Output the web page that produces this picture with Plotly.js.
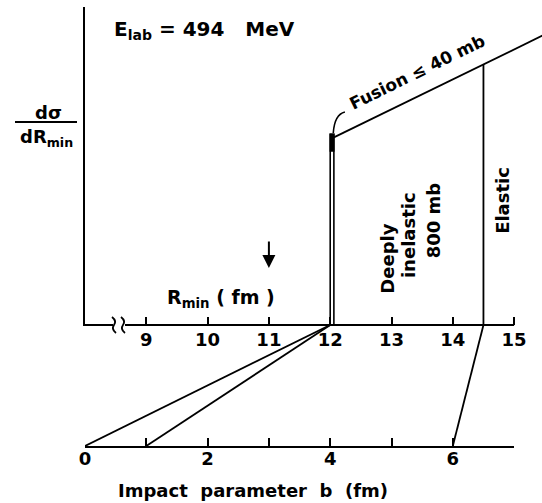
<!DOCTYPE html>
<html>
<head>
<meta charset="utf-8">
<script src="https://cdn.plot.ly/plotly-3.0.1.min.js"></script>
<style>
  html, body { margin: 0; padding: 0; background: #fff; }
  #chart { width: 542px; height: 503px; }
  #chart .xtick text, #chart .x2tick text { font-weight: bold !important; }
</style>
</head>
<body>
<div id="chart"></div>
<script>
// Distance of closest approach axis (fm) and its labels
const rTicks = [9, 10, 11, 12, 13, 14, 15];
const rTickText = ['9', '10', '11', '12', '13', '14', '15'];
const rAxisStart = 8;            // first value of the R_min scale (broken axis)
const rAxisEnd = 15;

// Impact parameter axis (fm) and its labels
const bTicks = [0, 1, 2, 3, 4, 5, 6, 7];
const bTickText = ['0', '', '2', '', '4', '', '6', ''];

// Narrow fusion spike near R_min = 12 fm
const spikeR = [12.0, 12.06];
const spikeTop = 6.0;
const spikeCap = [5.45, 6.02];

// Deeply inelastic envelope (rising line) and elastic cut
const envelopeR = [12.06, 15.6];
const envelopeY = [5.9, 9.23];
const elasticR = 14.5;
const elasticY = 8.2;

// Mapping b -> R_min (impact parameter to closest approach)
const mapB = [0, 1, 6];
const mapR = [12, 12, 14.5];

// Arrow marker on the R_min axis
const arrowR = 11;
const arrowTip = 1.79;
const arrowTail = 2.67;

const black = '#000';
const FONT = 'DejaVu Sans, sans-serif';
const BOLD = 'bold';

const traces = [];

// spike drawn as a thin double line
traces.push({
  x: [spikeR[0], spikeR[0], spikeR[1], spikeR[1]],
  y: [0, spikeTop, spikeTop, 0],
  xaxis: 'x', yaxis: 'y', mode: 'lines',
  line: { color: black, width: 1.6 }, hoverinfo: 'skip'
});
traces.push({
  x: [(spikeR[0] + spikeR[1]) / 2, (spikeR[0] + spikeR[1]) / 2],
  y: spikeCap,
  xaxis: 'x', yaxis: 'y', mode: 'lines',
  line: { color: black, width: 5 }, hoverinfo: 'skip'
});
// envelope
traces.push({
  x: envelopeR, y: envelopeY,
  xaxis: 'x', yaxis: 'y', mode: 'lines',
  line: { color: black, width: 1.8 }, hoverinfo: 'skip'
});
// elastic boundary
traces.push({
  x: [elasticR, elasticR], y: [0, elasticY],
  xaxis: 'x', yaxis: 'y', mode: 'lines',
  line: { color: black, width: 1.8 }, hoverinfo: 'skip'
});
// b -> R_min connections (lower panel; R axis starts where b = 0)
mapB.forEach((b, i) => {
  traces.push({
    x: [b, mapR[i] - rAxisStart], y: [0, 1],
    xaxis: 'x2', yaxis: 'y2', mode: 'lines',
    line: { color: black, width: 1.8 }, hoverinfo: 'skip'
  });
});

const W = 542, H = 503;
const left = 85, unit = 61.3;     // pixel origin and pixels per fm
const yBase = 325, yTopPx = 7, yLow = 446;
const yUnit = (yBase - yTopPx) / 10;
const yMin = -0.04;

function txt(size) { return { family: FONT, size: size, color: black, weight: BOLD }; }
function plain(size) { return { family: FONT, size: size, color: black }; }

const layout = {
  width: W, height: H,
  margin: { l: 0, r: 0, t: 0, b: 0 },
  paper_bgcolor: '#fff', plot_bgcolor: 'rgba(0,0,0,0)',
  showlegend: false,
  font: plain(18),
  xaxis: {
    domain: [left / W, 1],
    range: [rAxisStart, rAxisStart + (W - left) / unit],
    anchor: 'free', position: 1 - yBase / H,
    showline: false, showgrid: false, zeroline: false,
    ticks: 'inside', ticklen: 8, tickwidth: 2, tickcolor: black,
    tickvals: rTicks, ticktext: rTickText,
    ticklabelstandoff: 2,
    tickfont: plain(18)
  },
  yaxis: {
    domain: [1 - (yBase - yMin * yUnit) / H, 1 - yTopPx / H],
    range: [yMin, 10],
    showline: true, linewidth: 2, linecolor: black,
    showgrid: false, zeroline: false, showticklabels: false, ticks: ''
  },
  xaxis2: {
    domain: [left / W, (left + 7 * unit) / W],
    range: [0, 7], anchor: 'y2',
    showline: true, linewidth: 2, linecolor: black,
    showgrid: false, zeroline: false,
    ticks: 'inside', ticklen: 8, tickwidth: 2, tickcolor: black,
    tickvals: bTicks, ticktext: bTickText,
    ticklabelstandoff: -5,
    tickfont: plain(18)
  },
  yaxis2: {
    domain: [1 - yLow / H, 1 - yBase / H],
    range: [0, 1], visible: false
  },
  shapes: [
    // R_min baseline
    { type: 'line', xref: 'x', yref: 'y', x0: rAxisStart, x1: rAxisEnd, y0: 0, y1: 0,
      line: { color: black, width: 2 } },
    // axis break
    { type: 'rect', xref: 'paper', yref: 'paper',
      x0: 113 / W, x1: 125 / W, y0: 1 - 328 / H, y1: 1 - 322 / H,
      fillcolor: '#fff', line: { width: 0 } },
    { type: 'path', xref: 'paper', yref: 'paper', xsizemode: 'pixel', ysizemode: 'pixel',
      xanchor: 114 / W, yanchor: 1 - yBase / H,
      path: 'M -2,8 Q 3,4 0,0 Q -3,-4 2,-8', line: { color: black, width: 1.8 } },
    { type: 'path', xref: 'paper', yref: 'paper', xsizemode: 'pixel', ysizemode: 'pixel',
      xanchor: 123 / W, yanchor: 1 - yBase / H,
      path: 'M -2,8 Q 3,4 0,0 Q -3,-4 2,-8', line: { color: black, width: 1.8 } },
    // leader from the fusion label to the spike
    { type: 'path', xref: 'x', yref: 'y',
      path: 'M 12.24,6.70 Q 12.07,6.62 12.05,6.04', line: { color: black, width: 1.6 } },
    // fraction bar of the y label
    { type: 'line', xref: 'paper', yref: 'paper',
      x0: 15 / W, x1: 77 / W, y0: 1 - 122 / H, y1: 1 - 122 / H,
      line: { color: black, width: 2 } }
  ],
  annotations: [
    { xref: 'paper', yref: 'paper', x: 112 / W, y: 1 - 30 / H, xanchor: 'left', yanchor: 'middle',
      text: 'E<sub>lab</sub> = 494&nbsp;&nbsp;&nbsp;MeV', showarrow: false, font: txt(20) },
    { xref: 'paper', yref: 'paper', x: 48 / W, y: 1 - 113 / H, xanchor: 'center', yanchor: 'middle',
      text: 'dσ', showarrow: false, font: txt(18) },
    { xref: 'paper', yref: 'paper', x: 46 / W, y: 1 - 138 / H, xanchor: 'center', yanchor: 'middle',
      text: 'dR<sub>min</sub>', showarrow: false, font: txt(18) },
    { xref: 'paper', yref: 'paper', x: 221 / W, y: 1 - 298 / H, xanchor: 'center', yanchor: 'middle',
      text: 'R<sub>min</sub> ( fm )', showarrow: false, font: txt(19) },
    { xref: 'paper', yref: 'paper', x: 253 / W, y: 1 - 490 / H, xanchor: 'center', yanchor: 'middle',
      text: 'Impact&nbsp; parameter&nbsp; b&nbsp; (fm)', showarrow: false, font: txt(18) },
    { xref: 'x', yref: 'y', x: 13.42, y: 7.96, textangle: -26,
      text: 'Fusion ≤ 40 mb', showarrow: false, font: txt(17) },
    { xref: 'x', yref: 'y', x: 12.94, y: 2.08, textangle: -90,
      text: 'Deeply', showarrow: false, font: txt(18) },
    { xref: 'x', yref: 'y', x: 13.27, y: 2.83, textangle: -90,
      text: 'inelastic', showarrow: false, font: txt(18) },
    { xref: 'x', yref: 'y', x: 13.68, y: 3.30, textangle: -90,
      text: '800 mb', showarrow: false, font: txt(18) },
    { xref: 'x', yref: 'y', x: 14.80, y: 3.93, textangle: -90,
      text: 'Elastic', showarrow: false, font: txt(18) },
    { xref: 'x', yref: 'y', x: arrowR, y: arrowTip, axref: 'x', ayref: 'y',
      ax: arrowR, ay: arrowTail, text: '', showarrow: true,
      arrowhead: 2, arrowsize: 1.3, arrowwidth: 2, arrowcolor: black }
  ]
};

Plotly.newPlot('chart', traces, layout, { staticPlot: true, displayModeBar: false });
</script>
</body>
</html>
